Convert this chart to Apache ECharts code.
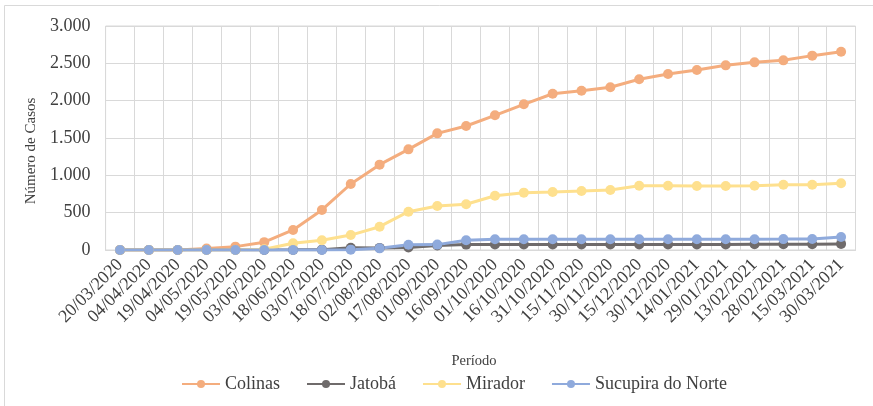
<!DOCTYPE html>
<html>
<head>
<meta charset="utf-8">
<script src="https://cdn.jsdelivr.net/npm/echarts@6/dist/echarts.min.js"></script>
<style>
  html, body { margin: 0; padding: 0; background: #ffffff; }
  #chart { width: 873px; height: 406px; }
</style>
</head>
<body>
<div id="chart"></div>
<script>
// Reporting dates (every 15 days)
const periodos = [
  '20/03/2020', '04/04/2020', '19/04/2020', '04/05/2020', '19/05/2020', '03/06/2020',
  '18/06/2020', '03/07/2020', '18/07/2020', '02/08/2020', '17/08/2020', '01/09/2020',
  '16/09/2020', '01/10/2020', '16/10/2020', '31/10/2020', '15/11/2020', '30/11/2020',
  '15/12/2020', '30/12/2020', '14/01/2021', '29/01/2021', '13/02/2021', '28/02/2021',
  '15/03/2021', '30/03/2021'
];

// Cumulative case counts per municipality
const colinas = [0, 0, 0, 20, 45, 105, 268, 536, 884, 1143, 1348, 1562, 1661, 1804, 1951, 2093, 2134, 2179, 2286, 2357, 2411, 2473, 2513, 2540, 2603, 2656];
const jatoba = [0, 0, 0, 0, 0, 0, 2, 5, 30, 28, 35, 60, 72, 73, 73, 74, 74, 74, 75, 75, 75, 75, 76, 76, 77, 82];
const mirador = [0, 0, 0, 0, 0, 10, 90, 130, 200, 312, 513, 589, 612, 727, 768, 777, 790, 804, 861, 861, 858, 858, 861, 875, 875, 893];
const sucupira = [0, 0, 0, 0, 0, 0, 0, 0, 5, 22, 70, 72, 130, 145, 145, 145, 145, 145, 145, 145, 145, 145, 145, 146, 148, 175];

const yTicks = { min: 0, max: 3000, step: 500 };

const FONT = '"Liberation Serif", "Times New Roman", serif';
const TXT = '#404040';

function milhar(v) {
  return String(v).replace(/\B(?=(\d{3})+(?!\d))/g, '.');
}

function serie(nome, dados, cor) {
  return {
    name: nome,
    type: 'line',
    data: dados,
    symbol: 'circle',
    symbolSize: 10,
    lineStyle: { width: 3, color: cor },
    itemStyle: { color: cor },
    emphasis: { disabled: true }
  };
}

const chart = echarts.init(document.getElementById('chart'), null, { renderer: 'canvas' });
chart.setOption({
  animation: false,
  backgroundColor: '#ffffff',
  graphic: [
    {
      // outer frame of the chart area
      type: 'rect',
      shape: { x: 4.5, y: 5.5, width: 900, height: 500 },
      style: { fill: 'none', stroke: '#d9d9d9', lineWidth: 1 },
      silent: true
    },
    {
      // vertical axis title
      type: 'text',
      x: 31, y: 151,
      rotation: Math.PI / 2,
      style: {
        text: 'Número de Casos',
        fontFamily: FONT, fontSize: 15, fill: TXT,
        align: 'center', verticalAlign: 'middle'
      },
      silent: true
    }
  ],
  grid: {
    left: 105.6, right: 17.5, top: 26, bottom: 156,
    show: true, borderColor: '#d9d9d9', borderWidth: 1
  },
  legend: {
    top: 375,
    left: 181,
    padding: 0,
    itemWidth: 38,
    itemHeight: 10,
    itemGap: 26,
    textStyle: { fontFamily: FONT, fontSize: 18, color: TXT },
    data: ['Colinas', 'Jatobá', 'Mirador', 'Sucupira do Norte']
  },
  xAxis: {
    type: 'category',
    data: periodos,
    boundaryGap: true,
    name: 'Período',
    nameLocation: 'middle',
    nameGap: 104,
    nameTextStyle: { fontFamily: FONT, fontSize: 14.5, color: TXT, padding: [0, 13, 0, 0] },
    axisLine: { show: true, lineStyle: { color: '#d9d9d9' } },
    axisTick: { show: false },
    splitLine: { show: true, interval: 0, lineStyle: { color: '#d9d9d9', width: 1 } },
    axisLabel: {
      interval: 0, rotate: 45, margin: 12,
      fontFamily: FONT, fontSize: 18, color: TXT
    }
  },
  yAxis: {
    type: 'value',
    min: yTicks.min, max: yTicks.max, interval: yTicks.step,
    axisLine: { show: false },
    axisTick: { show: false },
    splitLine: { show: true, lineStyle: { color: '#d9d9d9', width: 1 } },
    axisLabel: {
      margin: 15, fontFamily: FONT, fontSize: 18, color: TXT,
      formatter: milhar
    }
  },
  series: [
    serie('Colinas', colinas, '#F4AD7E'),
    serie('Jatobá', jatoba, '#6F6B6B'),
    serie('Mirador', mirador, '#FEE08E'),
    serie('Sucupira do Norte', sucupira, '#8FAADC')
  ]
});
</script>
</body>
</html>
